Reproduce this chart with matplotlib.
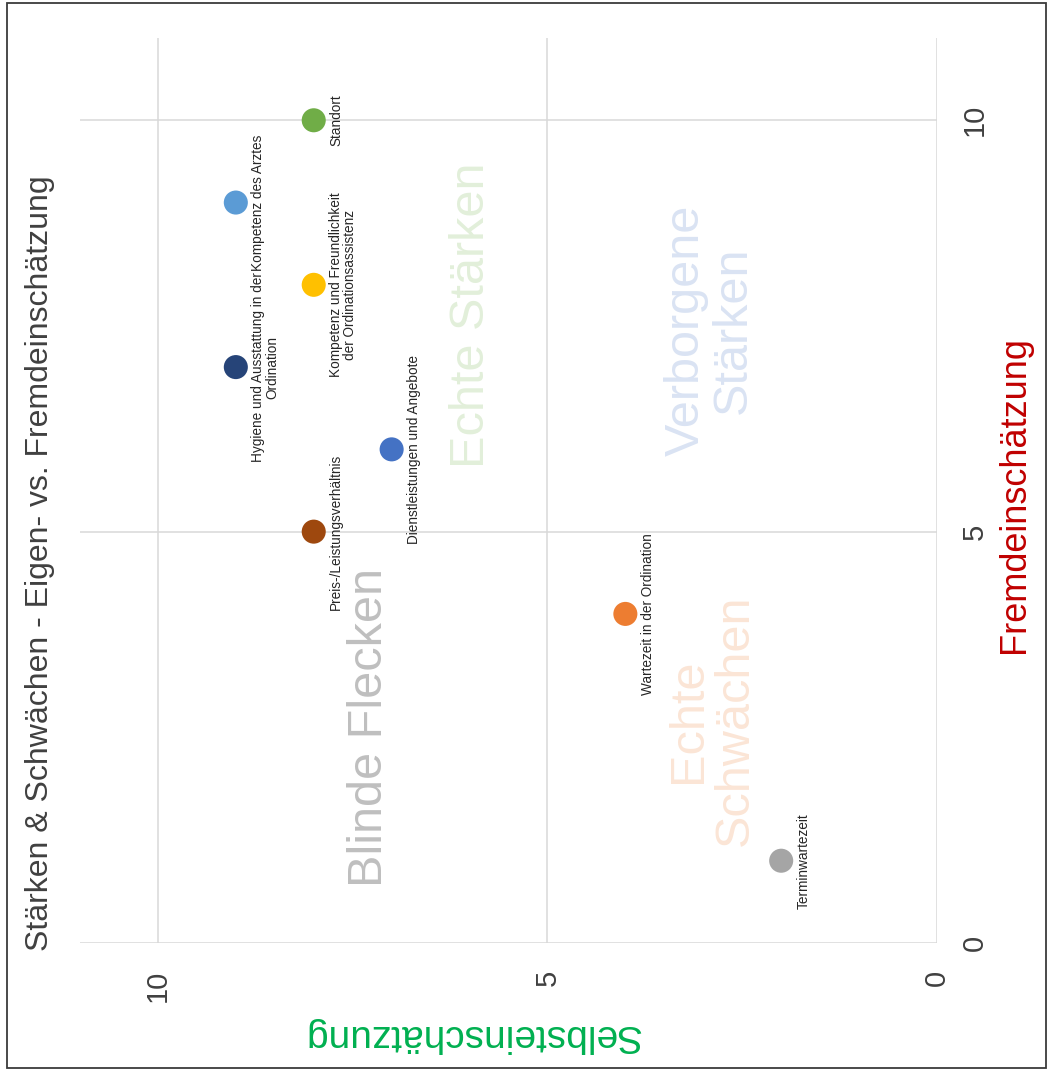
import matplotlib
matplotlib.use("Agg")
import matplotlib.pyplot as plt
from matplotlib import font_manager
from matplotlib.patches import Rectangle

# Ratings per practice aspect: self-assessment vs. external assessment
items = [
    "Dienstleistungen und Angebote",
    "Wartezeit in der Ordination",
    "Terminwartezeit",
    "Kompetenz und Freundlichkeit\nder Ordinationsassistenz",
    "Kompetenz des Arztes",
    "Standort",
    "Hygiene und Ausstattung in der\nOrdination",
    "Preis-/Leistungsverhältnis",
]
selbst = [7, 4, 2, 8, 9, 8, 9, 8]
fremd = [6, 4, 1, 8, 9, 10, 7, 5]
colors = ["#4472C4", "#ED7D31", "#A5A5A5", "#FFC000",
          "#5B9BD5", "#70AD47", "#264478", "#9E480E"]

ticks = [0, 5, 10]
tick_labels = ["0", "5", "10"]

quadrants = ["Blinde Flecken", "Echte Stärken", "Verborgene\nStärken", "Echte\nSchwächen"]
quadrant_colors = ["#BFBFBF", "#E2EFDA", "#DAE3F3", "#FBE5D6"]

title = "Stärken & Schwächen - Eigen- vs. Fremdeinschätzung"

plt.rcParams["font.family"] = ["Liberation Sans", "DejaVu Sans"]
names = {f.name for f in font_manager.fontManager.ttflist}
if "Liberation Sans Narrow" in names:
    label_family, label_size = "Liberation Sans Narrow", 12
else:
    label_family, label_size = "Liberation Sans", 9.8

W, H = 1049, 1070
fig = plt.figure(figsize=(W / 100, H / 100), dpi=100)
fig.patch.set_facecolor("white")

# outer frame
fig.add_artist(Rectangle((7 / W, 2 / H), (1046 - 7) / W, (1067 - 2) / H,
                         transform=fig.transFigure, fill=False,
                         edgecolor="#3a3a3a", lw=1.3))

ax = fig.add_axes([80 / W, (H - 943) / H, (937 - 80) / W, (943 - 38) / H])
ax.set_xlim(11, 0)
ax.set_ylim(0, 11)
for s in ax.spines.values():
    s.set_visible(False)
ax.set_xticks(ticks)
ax.set_yticks(ticks)
ax.set_xticklabels(tick_labels, rotation=90, fontsize=21, color="#404040")
ax.set_yticklabels(tick_labels, rotation=90, fontsize=21, color="#404040",
                   va="center")
ax.yaxis.tick_right()
ax.tick_params(axis="x", length=0, pad=19)
ax.tick_params(axis="y", length=0, pad=17)
ax.grid(True, color="#D9D9D9", lw=1.1)
ax.set_axisbelow(True)

# quadrant captions
quad_pos = [(0.338, 0.238), (0.457, 0.694), (0.735, 0.677), (0.737, 0.246)]
for txt, col, (qx, qy) in zip(quadrants, quadrant_colors, quad_pos):
    ax.text(qx, qy, txt, transform=ax.transAxes, rotation=90, fontsize=35,
            color=col, ha="center", va="center", multialignment="center",
            linespacing=1.05, zorder=1)

ax.scatter(selbst, fremd, s=300, c=colors, zorder=3, edgecolors="none")

for name, sx, fy in zip(items, selbst, fremd):
    ax.annotate(name, (sx, fy), xytext=(11, 0), textcoords="offset points",
                rotation=90, ha="left", va="center", multialignment="center",
                fontsize=label_size, family=label_family, color="#262626",
                linespacing=1.0, zorder=4)

fig.text(40 / W, 1 - 563 / H, title, rotation=90, ha="center", va="center",
         fontsize=23, color="#404040")
fig.text(1015 / W, 1 - 495 / H, "Fremdeinschätzung", rotation=90,
         ha="center", va="center", fontsize=26, color="#C00000")
fig.text(472 / W, 1 - 1035 / H, "Selbsteinschätzung", rotation=180,
         ha="center", va="center", fontsize=28, color="#00B050")

fig.savefig("out.png", dpi=100)
